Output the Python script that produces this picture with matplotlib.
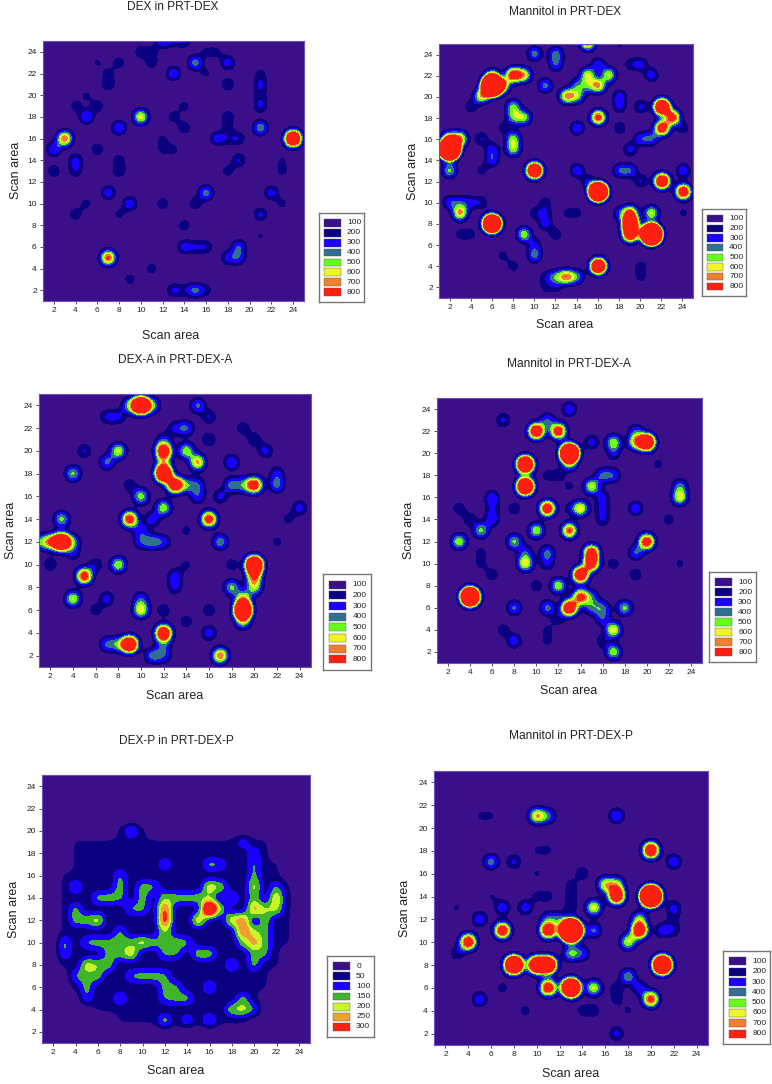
import numpy as np
import matplotlib
matplotlib.use('Agg')
import matplotlib.pyplot as plt
from matplotlib.colors import ListedColormap, BoundaryNorm

plt.rcParams['font.family'] = ['Liberation Sans', 'DejaVu Sans']

W, H = 772, 1084

titles = ['DEX in PRT-DEX', 'Mannitol in PRT-DEX', 'DEX-A in PRT-DEX-A',
          'Mannitol in PRT-DEX-A', 'DEX-P in PRT-DEX-P', 'Mannitol in PRT-DEX-P']

tick_values = list(range(2, 25, 2))

levels_main = [100, 200, 300, 400, 500, 600, 700, 800]
levels_p = [0, 50, 100, 150, 200, 250, 300]
colors_main = ['#3c0f8a', '#0a0080', '#1a00ff', '#2f6f8f', '#66ff1a', '#f0f52a', '#f08030', '#ff2010']
colors_p = ['#3c0f8a', '#0a0080', '#1a00ff', '#3fb52c', '#c8f52a', '#f0a030', '#ff2010']

# the gaussian image filter drops a lone cell to about 0.62 of its value
SPOT_GAIN = 1.6

# (scan x, scan y, intensity)
dex = [(24,16,1500),(7,5,750),(3,16,700),(10,18,560),(15,23,350),(13,22,280),(21,17,380),(16,11,350),
       (8,17,300),(5,18,290),(2,15,280),(4,14,220),(4,13,170),(2,13,170),(6,15,170),(7,11,260),(9,10,260),
       (12,10,160),(15,10,170),(4,9,160),(5,10,130),(8,9,120),(14,8,150),(21,9,220),(22,11,240),(23,10,120),
       (21,7,110),(14,6,230),(16,6,180),(15,6,160),(19,6,280),(18,5,220),(19,5,240),(11,4,140),(9,3,140),
       (13,2,200),(14,2,130),(15,2,300),(16,2,140),(11,2,100),(17,16,230),(19,16,180),(18,16,130),(19,14,210),
       (18,13,140),(18,18,170),(18,17,100),(14,17,170),(13,18,140),(14,19,130),(12,16,110),(13,15,120),
       (12,15,110),(18,21,190),(21,21,190),(21,20,130),(21,22,120),(21,19,200),(18,23,250),(7,21,180),
       (7,22,120),(8,23,150),(6,23,110),(10,24,160),(11,23,150),(11,24,120),(12,25,250),(14,25,180),(13,25,140),
       (4,19,130),(6,19,160),(5,20,110),(8,14,150),(8,13,170),(23,13,120),(23,14,100),(16,24,110),(17,24,110),
       (16,22,110)]

man_dex = [(6,21,6000),(2,15,6000),(21,7,6000),(16,11,3500),(6,8,3000),(10,13,1500),(16,4,1500),(22,19,1500),
           (22,17,900),(23,18,800),(22,12,1200),(24,11,1000),(19,8,1600),(19,7,1100),(19,9,700),(3,9,620),
           (2,13,420),(2,10,250),(3,10,200),(5,20,550),(7,21,500),(8,22,850),(9,22,550),(6,22,300),(8,19,420),
           (8,18,350),(9,18,450),(8,16,430),(8,15,450),(2,16,550),(3,16,600),(6,15,230),(6,14,260),(5,16,200),
           (5,13,130),(4,19,170),(7,17,130),(10,24,350),(12,24,330),(12,23,280),(11,21,340),(15,25,650),(13,20,600),
           (14,20,400),(14,21,280),(15,21,280),(15,22,500),(16,21,600),(17,22,500),(16,23,250),(16,18,800),
           (14,17,280),(18,20,230),(18,19,200),(18,17,180),(20,23,220),(19,23,150),(21,22,250),(20,19,220),
           (20,16,250),(21,16,280),(19,15,230),(24,17,150),(24,13,270),(14,13,270),(15,12,180),(18,13,280),
           (19,13,280),(20,12,200),(21,9,520),(18,9,220),(10,5,330),(10,6,200),(9,7,480),(3,7,130),(4,7,130),
           (4,10,180),(5,10,170),(12,7,170),(11,9,150),(11,8,220),(10,9,150),(11,10,150),(14,9,130),(13,9,110),
           (7,5,130),(8,4,140),(20,4,140),(20,3,130),(13,3,620),(12,3,330),(14,3,330),(11,3,130),(11,2,110),
           (12,2,120),(24,9,120),(18,25,120)]

dex_a = [(10,24,1800),(9,24,350),(11,24,350),(3,12,1600),(2,12,600),(1,12,300),(4,12,300),(20,10,1800),(20,9,600),
         (20,8,450),(19,6,2000),(19,7,500),(19,5,400),(12,18,1500),(13,17,1000),(12,20,1000),(12,19,300),
         (9,3,1300),(8,3,300),(7,3,300),(12,4,1100),(17,2,700),(5,9,850),(9,14,850),(16,14,850),(3,14,430),
         (4,18,420),(8,20,520),(7,19,320),(14,20,480),(15,19,620),(10,16,460),(12,15,480),(11,14,250),(10,13,220),
         (10,12,240),(11,12,330),(12,12,230),(17,12,380),(8,10,500),(4,7,520),(7,7,240),(6,6,150),(10,6,560),
         (10,7,260),(18,8,420),(20,17,900),(19,17,280),(18,17,330),(17,16,220),(15,16,250),(15,17,260),(14,17,300),
         (22,17,320),(22,18,220),(21,20,230),(20,21,180),(19,22,170),(24,15,240),(23,14,130),(14,22,300),(13,22,200),
         (16,21,200),(18,19,300),(15,24,320),(16,23,200),(7,23,200),(8,23,200),(5,20,210),(2,10,180),(6,10,180),
         (4,11,190),(13,9,240),(13,8,200),(12,6,170),(16,6,170),(14,5,160),(16,4,260),(11,2,330),(12,2,250),
         (12,3,220),(18,10,150),(14,10,120),(22,12,130),(14,13,130),(9,17,170),(12,21,200)]

man_a = [(4,7,3000),(13,20,3000),(9,19,1800),(9,17,1800),(10,22,1100),(12,22,900),(20,21,1500),(19,21,550),(19,22,250),
         (17,21,480),(17,20,200),(15,21,240),(11,23,280),(13,24,280),(7,23,220),(13,19,300),(11,15,950),(14,15,580),
         (13,15,120),(10,13,500),(13,13,750),(5,13,420),(6,14,250),(6,16,260),(6,15,160),(4,14,180),(3,15,170),
         (8,15,170),(3,12,500),(8,12,420),(9,11,250),(9,10,560),(11,11,320),(11,10,200),(15,11,900),(15,10,850),
         (14,9,1100),(12,8,500),(10,8,160),(6,9,160),(5,11,130),(5,10,120),(6,21,100),(14,7,750),(13,6,1100),
         (15,7,260),(15,6,280),(16,6,300),(16,5,250),(17,4,580),(16,3,170),(17,2,480),(18,6,430),(8,6,320),(11,6,340),
         (12,5,150),(8,3,260),(7,4,160),(11,3,120),(11,4,110),(19,15,270),(19,11,300),(20,12,900),(19,9,170),
         (17,10,150),(23,17,320),(23,16,540),(23,10,120),(22,14,150),(21,19,130),(15,17,520),(16,18,300),(17,18,260),
         (16,16,210),(16,15,190),(16,14,190),(11,18,130),(12,18,130),(13,17,120)]

dex_p = [(16,13,420),(12,13,230),(12,12,250),(12,11,140),(15,12,190),(12,14,130),(13,14,120),(14,14,120),(15,14,120),
         (16,15,170),(17,15,130),(18,14,120),(16,14,110),(17,13,120),(18,12,170),(19,12,200),(19,11,220),(20,11,130),
         (20,10,190),(20,13,200),(21,13,130),(20,14,120),(20,15,160),(20,16,110),(22,14,180),(22,13,150),(22,15,110),
         (21,12,120),(21,11,110),(21,10,110),(21,9,110),(20,8,120),(20,9,110),(18,8,120),(19,10,120),(6,12,170),
         (5,12,120),(4,13,120),(4,12,120),(6,14,120),(7,14,120),(8,14,110),(8,15,120),(8,16,110),(4,15,120),(10,15,120),
         (11,15,110),(10,14,120),(10,13,110),(9,13,110),(6,10,120),(7,10,110),(5,10,110),(8,10,120),(8,11,110),(8,9,110),
         (9,9,170),(10,10,160),(11,10,110),(9,10,110),(3,10,120),(3,9,110),(5,8,160),(6,8,130),(6,7,120),(5,7,110),
         (7,8,120),(7,9,110),(5,6,120),(5,5,105),(4,7,110),(13,10,130),(12,10,110),(14,10,110),(12,9,110),(13,9,105),
         (15,9,130),(16,9,130),(11,7,120),(10,7,120),(9,7,110),(12,7,110),(12,6,110),(12,5,105),(13,6,110),(13,5,110),
         (14,5,120),(8,5,120),(16,6,120),(18,4,140),(19,4,150),(20,4,110),(19,5,120),(12,3,140),(14,3,110),(16,3,130),
         (9,20,130),(12,17,110),(16,17,120),(17,17,100),(19,19,100),(20,18,100),(20,17,110)]

# faint plateau of the DEX-P map: scan y, first x, last x, intensity
dex_p_rows = [(20,8,10,60),(19,4,21,60),(18,4,21,60),(17,4,22,60),(16,3,22,60),(15,3,23,60),(14,3,23,60),(13,3,23,60),
              (12,3,23,60),(11,3,23,60),(10,3,23,60),(9,3,22,60),(8,3,22,60),(7,4,21,60),(6,4,21,60),(5,5,20,60),
              (4,6,20,60),(3,8,19,60)]

man_p = [(13,11,6000),(20,14,4500),(21,8,2500),(13,6,2500),(8,8,2200),(10,8,1500),(11,8,1500),(20,18,1100),(17,14,1100),
         (17,15,450),(16,15,520),(19,11,1000),(19,12,400),(18,10,500),(11,11,1000),(11,12,250),(7,11,950),(4,10,950),
         (11,6,950),(10,21,580),(11,21,300),(17,21,300),(6,17,350),(8,17,220),(22,17,280),(14,16,170),(13,9,400),
         (14,9,250),(15,13,560),(7,13,260),(9,13,250),(5,12,270),(3,9,170),(15,11,320),(21,11,240),(22,11,150),
         (22,13,220),(22,12,110),(18,7,380),(19,6,230),(20,5,800),(15,6,520),(5,5,270),(7,6,130),(9,4,130),(14,4,130),
         (15,4,150),(17,6,150),(17,5,130),(18,4,110),(17,2,220),(13,14,130),(13,13,140),(13,15,120),(11,14,130),
         (10,14,110),(10,16,110),(6,21,100),(5,21,100),(10,18,100),(11,18,110),(3,13,110),(4,19,100),(21,20,100),
         (15,20,100),(6,14,100),(12,12,240)]

spots = [dex, man_dex, dex_a, man_a, dex_p, man_p]

# pixel layout: left, right, top, bottom of each map
map_px = [(43,304,41,301),(439,693,44,298),(39,311,394,667),(437,702,398,663),(42,310,775,1043),(434,708,771,1045)]
legend_px = [(319,364,213,302),(702,746,209,296),(323,371,574,670),(709,756,572,662),(327,374,956,1037),(723,770,951,1044)]
title_px = [(173,7),(565,12),(175,360),(569,364),(176,741),(571,736)]
xlabel_px = [(171,336),(565,325),(175,696),(569,691),(176,1071),(571,1074)]
ylabel_px = [(16,170),(413,171),(11,530),(409,530),(14,909),(405,908)]


def add_px_axes(fig, box):
    l, r, t, b = box
    return fig.add_axes([l / W, 1 - b / H, (r - l) / W, (b - t) / H])


def put_text(fig, pos, s, size, **kw):
    fig.text(pos[0] / W, 1 - pos[1] / H, s, fontsize=size, color='#222222', ha='center', va='center', **kw)


fig = plt.figure(figsize=(W / 100, H / 100), dpi=100, facecolor='white')

for i in range(6):
    ax = add_px_axes(fig, map_px[i])
    grid = np.zeros((25, 25))
    if i == 4:
        for y, x0, x1, v in dex_p_rows:
            grid[y - 1, x0 - 1:x1] = v
        levels, colors = levels_p, colors_p
        edges = levels[1:]
    else:
        levels, colors = levels_main, colors_main
        edges = levels[:-1]
    for x, y, v in spots[i]:
        grid[y - 1, x - 1] = v * SPOT_GAIN

    norm = BoundaryNorm([-1e5] + edges + [1e5], len(colors))
    ax.imshow(grid, origin='lower', extent=(0.5, 25.5, 0.5, 25.5), cmap=ListedColormap(colors), norm=norm,
              interpolation='gaussian', interpolation_stage='data', aspect='auto')
    ax.set_xlim(1, 25)
    ax.set_ylim(1, 25)
    ax.set_xticks(tick_values)
    ax.set_yticks(tick_values)
    ax.tick_params(length=2, width=0.6, labelsize=6, pad=2.5, color='#333333', labelcolor='#222222')
    for spine in ax.spines.values():
        spine.set_color('#6a50c0')
        spine.set_linewidth(0.8)

    put_text(fig, title_px[i], titles[i], 8.6)
    put_text(fig, xlabel_px[i], 'Scan area', 9)
    put_text(fig, ylabel_px[i], 'Scan area', 9, rotation=90)

    # legend box
    lg = add_px_axes(fig, legend_px[i])
    rows = np.arange(len(levels))
    lg.barh(rows, [0.36] * len(levels), left=0.12, height=0.78, color=colors, edgecolor='#555555', linewidth=0.3)
    for r, lab in zip(rows, levels):
        lg.text(0.62, r, str(lab), fontsize=6, color='#222222', va='center', ha='left')
    lg.set_xlim(0, 1)
    lg.set_ylim(len(levels), -1)
    lg.set_xticks([])
    lg.set_yticks([])
    for spine in lg.spines.values():
        spine.set_color('#777777')
        spine.set_linewidth(1.0)

fig.savefig('out.png', dpi=100)
